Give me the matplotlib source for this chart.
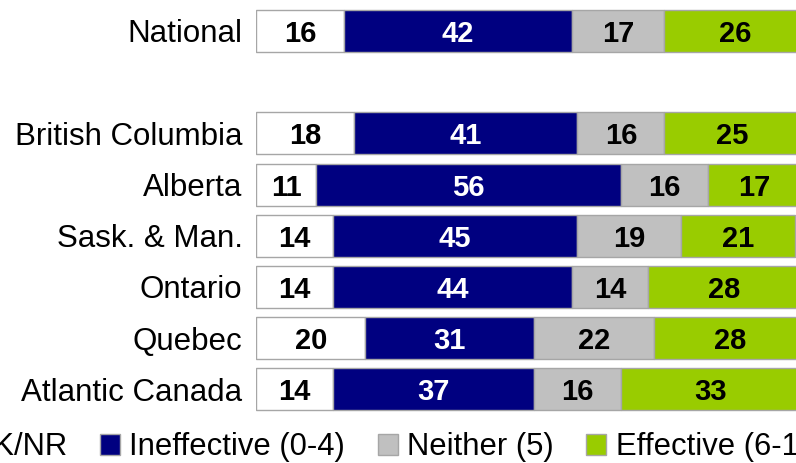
import matplotlib.pyplot as plt
import numpy as np
from matplotlib.patches import Patch

plt.rcParams['font.family'] = ['Liberation Sans', 'DejaVu Sans']

# survey results by region (percent)
regions = ["National", "", "British Columbia", "Alberta", "Sask. & Man.",
           "Ontario", "Quebec", "Atlantic Canada"]
dk_nr = [16, None, 18, 11, 14, 14, 20, 14]
ineffective = [42, None, 41, 56, 45, 44, 31, 37]
neither = [17, None, 16, 16, 19, 14, 22, 16]
effective = [26, None, 25, 17, 21, 28, 28, 33]

series = [
    ("DK/NR", dk_nr, "#ffffff", "black"),
    ("Ineffective (0-4)", ineffective, "#000080", "white"),
    ("Neither (5)", neither, "#c0c0c0", "black"),
    ("Effective (6-10)", effective, "#99cc00", "black"),
]

fig = plt.figure(figsize=(7.96, 4.63), dpi=100)
ax = fig.add_axes([0.3222, 0.1037, 0.6834, 0.8847])

ypos = np.arange(len(regions))
rows = [i for i in range(len(regions)) if dk_nr[i] is not None]
left = np.zeros(len(rows))
for name, vals, col, tcol in series:
    v = np.array([vals[i] for i in rows], dtype=float)
    y = ypos[rows]
    ax.barh(y, v, left=left, height=0.82, color=col,
            edgecolor="#a6a6a6", linewidth=1)
    for k in range(len(rows)):
        ax.text(left[k] + v[k] / 2, y[k], "%d" % v[k], ha="center",
                va="center_baseline", fontsize=21, fontweight="bold", color=tcol)
    left = left + v

ax.set_xlim(0, 100)
ax.set_ylim(len(regions) - 0.5, -0.5)
ax.set_yticks(ypos)
ax.set_yticklabels(regions, fontsize=22.5)
ax.tick_params(axis="y", length=0, pad=10)
ax.set_xticks([])
for s in ax.spines.values():
    s.set_visible(False)

handles = [Patch(facecolor=c, edgecolor="#a6a6a6", label=n) for n, _, c, _ in series]
fig.legend(handles=handles, loc="center left", bbox_to_anchor=(-58 / 796, 0.034),
           ncol=4, frameon=False, fontsize=22.3, handlelength=0.65,
           handleheight=0.65, handletextpad=0.3, columnspacing=1.05,
           borderpad=0, borderaxespad=0)

fig.savefig("out.png", dpi=100)
